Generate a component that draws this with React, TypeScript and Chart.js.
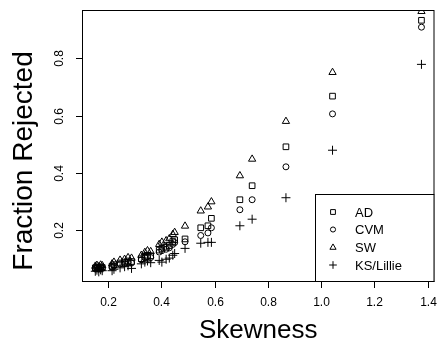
import React, { useEffect, useRef } from "react";
import { Chart, registerables } from "chart.js";
import { drawPoint } from "chart.js/helpers";

Chart.register(...registerables);

const FONT = '"Liberation Sans", Arial, Helvetica, sans-serif';

const skew = [0.152, 0.158, 0.165, 0.172, 0.178, 0.215, 0.222, 0.245, 0.262, 0.275, 0.288, 0.325, 0.338, 0.348, 0.36, 0.392, 0.402, 0.418, 0.43, 0.443, 0.45, 0.489, 0.548, 0.575, 0.588, 0.695, 0.741, 0.868, 1.043, 1.377];
const sw = [0.074, 0.077, 0.072, 0.078, 0.076, 0.082, 0.088, 0.095, 0.098, 0.104, 0.102, 0.112, 0.122, 0.128, 0.125, 0.15, 0.158, 0.163, 0.17, 0.185, 0.192, 0.214, 0.267, 0.281, 0.299, 0.39, 0.448, 0.58, 0.751, 0.964];
const ad = [0.068, 0.07, 0.066, 0.071, 0.069, 0.074, 0.079, 0.085, 0.088, 0.092, 0.09, 0.1, 0.108, 0.112, 0.11, 0.13, 0.136, 0.14, 0.146, 0.16, 0.166, 0.169, 0.208, 0.215, 0.241, 0.306, 0.355, 0.491, 0.668, 0.933];
const cvm = [0.065, 0.067, 0.064, 0.068, 0.066, 0.07, 0.075, 0.081, 0.083, 0.087, 0.085, 0.096, 0.103, 0.106, 0.104, 0.123, 0.128, 0.133, 0.138, 0.15, 0.156, 0.159, 0.181, 0.19, 0.208, 0.271, 0.306, 0.421, 0.606, 0.909];
const ks = [0.056, 0.06, 0.054, 0.061, 0.058, 0.058, 0.063, 0.068, 0.072, 0.075, 0.066, 0.082, 0.088, 0.092, 0.086, 0.094, 0.088, 0.098, 0.102, 0.112, 0.118, 0.136, 0.154, 0.157, 0.157, 0.215, 0.238, 0.313, 0.479, 0.779];

const xTicks = [0.2, 0.4, 0.6, 0.8, 1.0, 1.2, 1.4];
const yTicks = [0.2, 0.4, 0.6, 0.8];
const seriesNames = ["AD", "CVM", "SW", "KS/Lillie"];
const seriesStyles = ["rect", "circle", "triangle", "cross"];
const seriesRadii = [4, 3, 4.2, 4.5];

export default function App() {
  const ref = useRef<HTMLCanvasElement>(null);

  useEffect(() => {
    if (!ref.current) return;
    const values = [ad, cvm, sw, ks];
    const datasets = seriesNames.map((name, k) => ({
      label: name,
      data: skew.map((x, i) => ({ x, y: values[k][i] })),
      pointStyle: seriesStyles[k],
      pointRadius: seriesRadii[k],
      pointHoverRadius: seriesRadii[k],
      pointBorderWidth: 1,
      borderColor: "#000",
      backgroundColor: "rgba(0,0,0,0)",
      showLine: false,
      clip: 0,
    }));

    const rPlot = {
      id: "rPlot",
      afterDraw(chart: any) {
        const { ctx, chartArea: a, scales } = chart;
        const xs = scales.x;
        const ys = scales.y;
        ctx.save();
        ctx.strokeStyle = "#000";
        ctx.fillStyle = "#000";
        ctx.lineWidth = 1;
        // box
        ctx.strokeRect(a.left + 0.5, a.top + 0.5, a.right - a.left - 1, a.bottom - a.top);
        // x ticks
        ctx.font = `12px ${FONT}`;
        ctx.textAlign = "center";
        ctx.textBaseline = "middle";
        xTicks.forEach((v) => {
          const px = Math.round(xs.getPixelForValue(v)) + 0.5;
          ctx.beginPath();
          ctx.moveTo(px, a.bottom);
          ctx.lineTo(px, a.bottom + 7);
          ctx.stroke();
          ctx.fillText(v.toFixed(1), px, a.bottom + 22);
        });
        // y ticks
        yTicks.forEach((v) => {
          const py = Math.round(ys.getPixelForValue(v)) + 0.5;
          ctx.beginPath();
          ctx.moveTo(a.left - 6, py);
          ctx.lineTo(a.left, py);
          ctx.stroke();
          ctx.save();
          ctx.translate(a.left - 22, py);
          ctx.rotate(-Math.PI / 2);
          ctx.fillText(v.toFixed(1), 0, 0);
          ctx.restore();
        });
        // titles
        ctx.font = `26px ${FONT}`;
        ctx.fillText("Skewness", (a.left + a.right) / 2, a.bottom + 50);
        ctx.save();
        ctx.font = `28px ${FONT}`;
        ctx.translate(24, 161);
        ctx.rotate(-Math.PI / 2);
        ctx.fillText("Fraction Rejected", 0, 0);
        ctx.restore();
        // legend
        const lx = 315.5;
        const ly = 194.5;
        ctx.fillStyle = "#fff";
        ctx.fillRect(lx, ly, a.right - lx, a.bottom - ly);
        ctx.strokeRect(lx, ly, a.right - 0.5 - lx, a.bottom + 0.5 - ly);
        const rows = [212, 229.5, 247.5, 265];
        ctx.font = `13px ${FONT}`;
        ctx.textAlign = "left";
        seriesNames.forEach((name, k) => {
          ctx.fillStyle = "rgba(0,0,0,0)";
          drawPoint(ctx, {
            pointStyle: seriesStyles[k] as any,
            radius: seriesRadii[k] * 0.85,
            rotation: 0,
            borderWidth: 1,
          }, 333, rows[k]);
          ctx.fillStyle = "#000";
          ctx.fillText(name, 355, rows[k] + 1);
        });
        ctx.restore();
      },
    };

    const chart = new Chart(ref.current, {
      type: "scatter",
      data: { datasets },
      options: {
        responsive: false,
        animation: false,
        events: [],
        layout: { padding: { left: 82, right: 3, top: 10, bottom: 69 } },
        scales: {
          x: { type: "linear", min: 0.102, max: 1.426, display: false },
          y: { type: "linear", min: 0.022, max: 0.969, display: false },
        },
        plugins: { legend: { display: false }, tooltip: { enabled: false } },
      },
      plugins: [rPlot],
    });
    return () => chart.destroy();
  }, []);

  return (
    <div style={{ position: "fixed", left: 0, top: 0, width: 440, height: 350, background: "#fff" }}>
      <canvas ref={ref} width={440} height={350} />
    </div>
  );
}
